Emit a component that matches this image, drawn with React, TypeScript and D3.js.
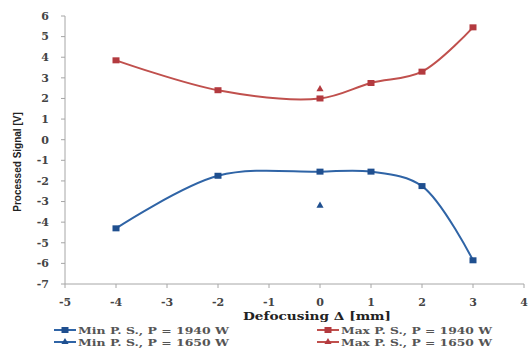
import * as d3 from "d3";

const xTicks = [-5, -4, -3, -2, -1, 0, 1, 2, 3, 4];
const yTicks = [6, 5, 4, 3, 2, 1, 0, -1, -2, -3, -4, -5, -6, -7];

const defocus = [-4, -2, 0, 1, 2, 3];
const maxPS1940 = [3.85, 2.4, 2.0, 2.75, 3.3, 5.45];
const minPS1940 = [-4.3, -1.75, -1.55, -1.55, -2.25, -5.85];
const defocus1650 = [0];
const maxPS1650 = [2.45];
const minPS1650 = [-3.2];

const BLUE = "#2f64a6";
const BLUE_DARK = "#1f4f8f";
const RED = "#c0504d";
const RED_DARK = "#b33a3f";

const W = 532;
const H = 348;
const margin = { left: 65, right: 8, top: 16, bottom: 64 };

type Pt = [number, number];

export default function App() {
  const x = d3.scaleLinear().domain([-5, 4]).range([margin.left, W - margin.right]);
  const y = d3.scaleLinear().domain([-7, 6]).range([H - margin.bottom, margin.top]);

  const line = d3
    .line<Pt>()
    .x((d) => x(d[0]))
    .y((d) => y(d[1]))
    .curve(d3.curveCatmullRom.alpha(0.5));

  const zip = (xs: number[], ys: number[]): Pt[] => xs.map((v, i) => [v, ys[i]]);

  const tri = d3.symbol().type(d3.symbolTriangle).size(22)();

  const font = "'DejaVu Serif', serif";
  const y0 = y(-7);

  const legend = [
    { label: "Min P. S., P = 1940 W", color: BLUE, mc: BLUE_DARK, shape: "sq", lx: 54, ly: 334 },
    { label: "Min P. S., P = 1650 W", color: BLUE, mc: BLUE_DARK, shape: "tri", lx: 54, ly: 346 },
    { label: "Max P. S., P = 1940 W", color: RED, mc: RED_DARK, shape: "sq", lx: 317, ly: 334 },
    { label: "Max P. S., P = 1650 W", color: RED, mc: RED_DARK, shape: "tri", lx: 317, ly: 346 },
  ];

  return (
    <svg width={W} height={H} style={{ position: "absolute", left: 0, top: 0, background: "#fff" }}>
      {/* axes */}
      <line x1={x(-5)} x2={x(-5)} y1={y(6)} y2={y0} stroke="#a6a6a6" />
      <line x1={x(-5)} x2={x(4)} y1={y0} y2={y0} stroke="#a6a6a6" />
      {yTicks.map((t) => (
        <g key={"y" + t}>
          <line x1={x(-5) - 4} x2={x(-5)} y1={y(t)} y2={y(t)} stroke="#a6a6a6" />
          <text
            x={x(-5) - 16}
            y={y(t)}
            dy="0.35em"
            textAnchor="end"
            fontFamily={font}
            fontSize={11}
            fontWeight="bold"
            fill="#444"
          >
            {t}
          </text>
        </g>
      ))}
      {xTicks.map((t) => (
        <g key={"x" + t}>
          <line x1={x(t)} x2={x(t)} y1={y0} y2={y0 + 4} stroke="#a6a6a6" />
          <text
            x={x(t)}
            y={y0 + 22}
            textAnchor="middle"
            fontFamily={font}
            fontSize={11}
            fontWeight="bold"
            fill="#444"
          >
            {t}
          </text>
        </g>
      ))}
      <text
        x={243}
        y={320}
        textLength={148}
        lengthAdjust="spacingAndGlyphs"
        fontFamily={font}
        fontSize={10.5}
        fontWeight="bold"
        fill="#222"
      >
        Defocusing Δ [mm]
      </text>
      <text
        transform="translate(21,162) rotate(-90)"
        textAnchor="middle"
        fontFamily="'Liberation Sans', sans-serif"
        fontSize={10}
        fontWeight="bold"
        fill="#222"
      >
        Processed Signal [V]
      </text>

      {/* lines */}
      <path d={line(zip(defocus, maxPS1940)) ?? ""} fill="none" stroke={RED} strokeWidth={2} />
      <path d={line(zip(defocus, minPS1940)) ?? ""} fill="none" stroke={BLUE} strokeWidth={2} />
      {zip(defocus, maxPS1940).map((d, i) => (
        <rect key={"mx" + i} x={x(d[0]) - 3.5} y={y(d[1]) - 3} width={7} height={6} fill={RED_DARK} />
      ))}
      {zip(defocus, minPS1940).map((d, i) => (
        <rect key={"mn" + i} x={x(d[0]) - 3.5} y={y(d[1]) - 3} width={7} height={6} fill={BLUE_DARK} />
      ))}
      {zip(defocus1650, maxPS1650).map((d, i) => (
        <path key={"mx2" + i} d={tri ?? ""} transform={`translate(${x(d[0])},${y(d[1])})`} fill={RED_DARK} />
      ))}
      {zip(defocus1650, minPS1650).map((d, i) => (
        <path key={"mn2" + i} d={tri ?? ""} transform={`translate(${x(d[0])},${y(d[1])})`} fill={BLUE_DARK} />
      ))}

      {/* legend */}
      {legend.map((l) => (
        <g key={l.label}>
          <line x1={l.lx} x2={l.lx + 22} y1={l.ly - 4} y2={l.ly - 4} stroke={l.color} strokeWidth={2} />
          {l.shape === "sq" ? (
            <rect x={l.lx + 7.5} y={l.ly - 7} width={7} height={6} fill={l.mc} />
          ) : (
            <path d={tri ?? ""} transform={`translate(${l.lx + 11},${l.ly - 4})`} fill={l.mc} />
          )}
          <text
            x={l.lx + 24}
            y={l.ly}
            textLength={151}
            lengthAdjust="spacingAndGlyphs"
            fontFamily={font}
            fontSize={10}
            fontWeight="bold"
            fill="#555"
          >
            {l.label}
          </text>
        </g>
      ))}
    </svg>
  );
}
